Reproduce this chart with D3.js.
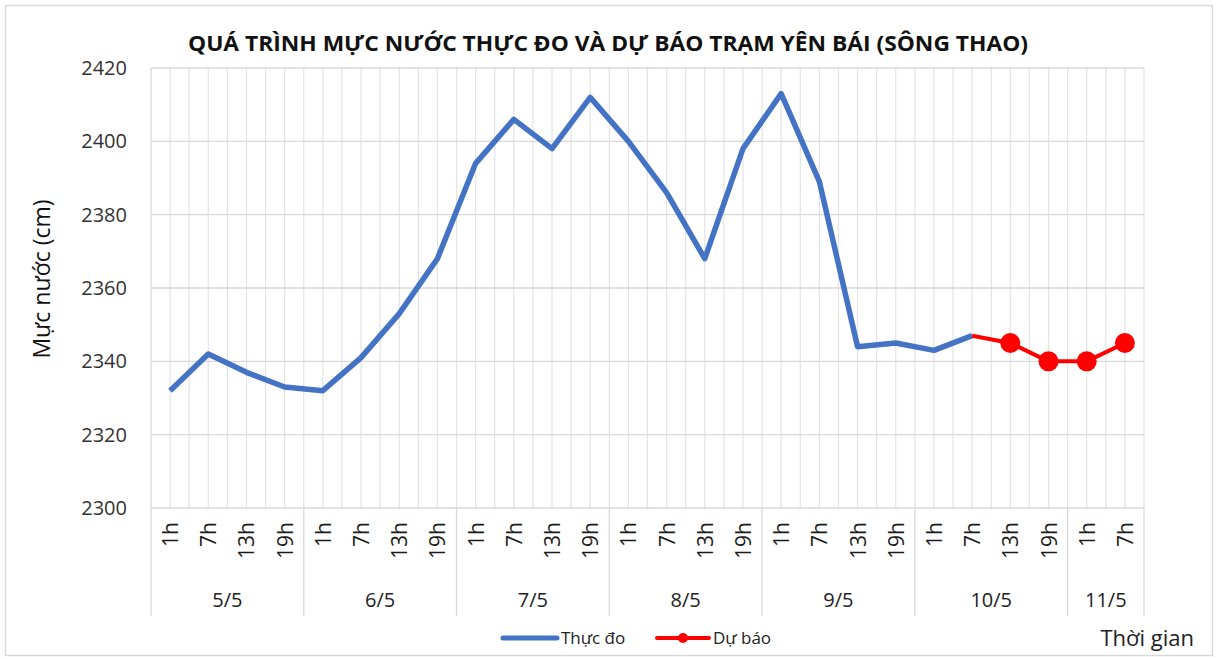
<!DOCTYPE html>
<html>
<head>
<meta charset="utf-8">
<script src="https://cdn.jsdelivr.net/npm/d3@7"></script>
<style>
  body { margin: 0; background: #fff; }
  svg { font-family: "Open Sans", "Noto Sans", sans-serif; }
</style>
</head>
<body>
<svg id="chart" width="1217" height="659"></svg>
<script>
// data
const days = ["5/5", "6/5", "7/5", "8/5", "9/5", "10/5", "11/5"];
const hoursPerDay = [4, 4, 4, 4, 4, 4, 2];
const hours = ["1h", "7h", "13h", "19h"];
const observed = [2332, 2342, 2337, 2333, 2332, 2341, 2353, 2368, 2394, 2406, 2398, 2412,
  2400, 2386, 2368, 2398, 2413, 2389, 2344, 2345, 2343, 2347];
const forecast = [2347, 2345, 2340, 2340, 2345]; // starts at 10/5 7h
const yTicks = [2300, 2320, 2340, 2360, 2380, 2400, 2420];

// categories
const cats = [];
days.forEach((d, i) => {
  for (let h = 0; h < hoursPerDay[i]; h++) cats.push({ day: d, hour: hours[h], key: d + " " + hours[h] });
});

const margin = { left: 151, right: 1144, top: 68, bottom: 508 };
const svg = d3.select("#chart");

// chart frame
svg.append("rect")
  .attr("x", 5.5).attr("y", 5.5).attr("width", 1207).attr("height", 650)
  .attr("fill", "#fff").attr("stroke", "#d9d9d9").attr("stroke-width", 1.5);

const x = d3.scaleBand().domain(cats.map(c => c.key)).range([margin.left, margin.right]);
const y = d3.scaleLinear().domain([2300, 2420]).range([margin.bottom, margin.top]);
const bw = x.bandwidth();

// vertical grid: at category centers and boundaries
const g = svg.append("g");
cats.forEach((c, i) => {
  g.append("line")
    .attr("x1", x(c.key) + bw / 2).attr("x2", x(c.key) + bw / 2)
    .attr("y1", margin.top).attr("y2", margin.bottom)
    .attr("stroke", "#e3e3e3").attr("stroke-width", 1.2);
  g.append("line")
    .attr("x1", x(c.key) + bw).attr("x2", x(c.key) + bw)
    .attr("y1", margin.top).attr("y2", margin.bottom)
    .attr("stroke", "#e3e3e3").attr("stroke-width", 1.2);
});
// horizontal grid
yTicks.forEach(t => {
  g.append("line")
    .attr("x1", margin.left).attr("x2", margin.right)
    .attr("y1", y(t)).attr("y2", y(t))
    .attr("stroke", "#d9d9d9").attr("stroke-width", 1.3);
});
g.append("line")
  .attr("x1", margin.left).attr("x2", margin.left)
  .attr("y1", margin.top).attr("y2", margin.bottom)
  .attr("stroke", "#d9d9d9").attr("stroke-width", 1.3);

// y axis labels
const yAxis = svg.append("g")
  .attr("transform", `translate(${margin.left - 21},0)`)
  .call(d3.axisLeft(y).tickValues(yTicks).tickSize(0).tickFormat(d3.format("d")));
yAxis.select(".domain").remove();
yAxis.selectAll("text")
  .attr("font-size", 20).attr("fill", "#333").attr("font-family", "Open Sans, sans-serif");

// x axis: hour labels
const xAxis = svg.append("g");
cats.forEach(c => {
  xAxis.append("text")
    .attr("transform", `translate(${x(c.key) + bw / 2 + 8},522) rotate(-90)`)
    .attr("text-anchor", "end")
    .attr("font-size", 21).attr("fill", "#1a1a1a")
    .text(c.hour);
});
// day groups and separators
let start = 0;
const sep = [margin.left];
days.forEach((d, i) => {
  const first = cats[start].key, last = cats[start + hoursPerDay[i] - 1].key;
  const x0 = x(first), x1 = x(last) + bw;
  xAxis.append("text")
    .attr("x", (x0 + x1) / 2).attr("y", 607)
    .attr("text-anchor", "middle")
    .attr("font-size", 20).attr("fill", "#222")
    .text(d);
  sep.push(x1);
  start += hoursPerDay[i];
});
sep.forEach(sx => {
  xAxis.append("line")
    .attr("x1", sx).attr("x2", sx).attr("y1", margin.bottom).attr("y2", 616)
    .attr("stroke", "#d9d9d9").attr("stroke-width", 1.3);
});

// lines
const line = d3.line().x(d => x(d.key) + bw / 2).y(d => y(d.v));
const obsData = observed.map((v, i) => ({ key: cats[i].key, v }));
const fcStart = observed.length - 1;
const fcData = forecast.map((v, i) => ({ key: cats[fcStart + i].key, v }));

svg.append("path").datum(obsData)
  .attr("d", line).attr("fill", "none")
  .attr("stroke", "#4472c4").attr("stroke-width", 5.5).attr("stroke-linejoin", "round");

svg.append("path").datum(fcData)
  .attr("d", line).attr("fill", "none")
  .attr("stroke", "#ff0000").attr("stroke-width", 4).attr("stroke-linejoin", "round");

svg.selectAll(".fc-dot").data(fcData.slice(1)).join("circle")
  .attr("cx", d => x(d.key) + bw / 2).attr("cy", d => y(d.v))
  .attr("r", 10).attr("fill", "#ff0000");

// title
svg.append("text")
  .attr("x", 608).attr("y", 51).attr("text-anchor", "middle")
  .attr("font-size", 21).attr("font-weight", "bold").attr("fill", "#111")
  .attr("textLength", 840).attr("lengthAdjust", "spacingAndGlyphs")
  .text("QUÁ TRÌNH MỰC NƯỚC THỰC ĐO VÀ DỰ BÁO TRẠM YÊN BÁI (SÔNG THAO)");

// y axis title
svg.append("text")
  .attr("transform", "translate(50,279) rotate(-90)")
  .attr("text-anchor", "middle").attr("font-size", 23).attr("fill", "#111")
  .text("Mực nước (cm)");

// x axis title
svg.append("text")
  .attr("x", 1194).attr("y", 646).attr("text-anchor", "end")
  .attr("font-size", 22).attr("fill", "#222")
  .text("Thời gian");

// legend
const lg = svg.append("g");
lg.append("line").attr("x1", 503).attr("x2", 557).attr("y1", 638).attr("y2", 638)
  .attr("stroke", "#4472c4").attr("stroke-width", 5).attr("stroke-linecap", "round");
lg.append("text").attr("x", 561).attr("y", 644).attr("font-size", 17).attr("fill", "#222").text("Thực đo");
lg.append("line").attr("x1", 657).attr("x2", 709).attr("y1", 638).attr("y2", 638)
  .attr("stroke", "#ff0000").attr("stroke-width", 4).attr("stroke-linecap", "round");
lg.append("circle").attr("cx", 683).attr("cy", 638).attr("r", 5).attr("fill", "#ff0000");
lg.append("text").attr("x", 713).attr("y", 644).attr("font-size", 17).attr("fill", "#222").text("Dự báo");
</script>
</body>
</html>
